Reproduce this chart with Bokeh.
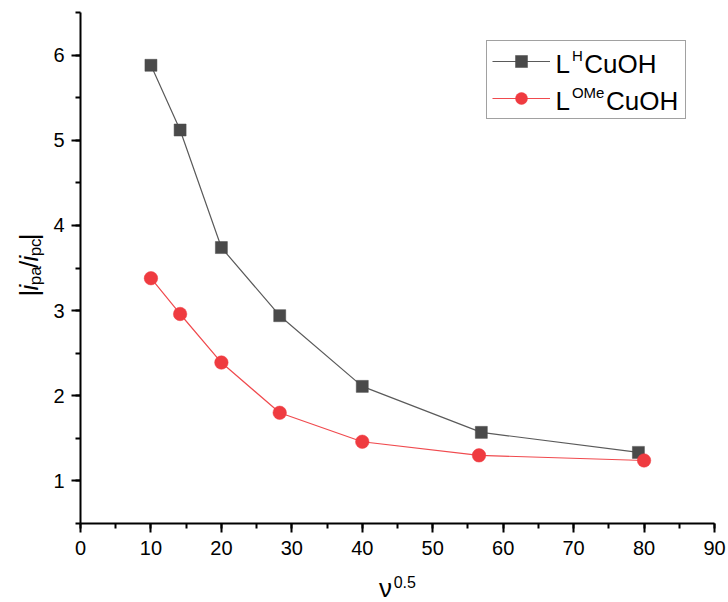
import math
from bokeh.plotting import figure
from bokeh.layouts import row, column
from bokeh.models import (Label, Legend, LegendItem, SingleIntervalTicker, Range1d)
from bokeh.embed import file_html
from bokeh.resources import INLINE

# ---- data ----
x_h = [10, 14.14, 20, 28.28, 40, 56.9, 79.2]
y_h = [5.88, 5.12, 3.74, 2.94, 2.11, 1.57, 1.335]
x_ome = [10, 14.14, 20, 28.28, 40, 56.57, 80]
y_ome = [3.38, 2.96, 2.39, 1.80, 1.46, 1.30, 1.24]

FONT = "Liberation Sans"
X0, X1, Y0, Y1 = 0, 90, 0.5, 6.5
W, H = 728, 602
YLAB_W = 50          # strip holding the rotated y title
XLAB_H = 37          # strip holding the x title
MAIN_W, MAIN_H = W - YLAB_W, H - XLAB_H
FL, FR, FT, FB = 80, 714, 12, 523   # frame edges in page pixels
MID = 0.3465         # distance baseline -> middle of text box, in em

def dx(px):
    return X0 + (px - FL) * (X1 - X0) / (FR - FL)

def dy(py):
    return Y1 - (py - FT) * (Y1 - Y0) / (FB - FT)

# Arial advance widths (per em)
ADV = {"L": .556, "H": .722, "O": .778, "M": .833, "e": .556, "C": .722, "u": .556,
       "|": .260, "i": .222, "p": .556, "a": .556, "/": .278, "c": .500,
       "ν": .520, "0": .556, ".": .278, "5": .556}

def width(s, size):
    return sum(ADV.get(ch, .556) for ch in s) * size

# ---------------- main plot ----------------
p = figure(width=MAIN_W, height=MAIN_H, output_backend="svg", toolbar_location=None,
           x_range=Range1d(X0, X1), y_range=Range1d(Y0, Y1),
           min_border_left=FL - YLAB_W, min_border_right=W - FR,
           min_border_top=FT, min_border_bottom=MAIN_H - FB)
p.outline_line_color = None
p.xgrid.visible = False
p.ygrid.visible = False
p.background_fill_color = "white"
p.border_fill_color = "white"

p.xaxis.ticker = SingleIntervalTicker(interval=10, num_minor_ticks=2)
p.yaxis.ticker = SingleIntervalTicker(interval=1, num_minor_ticks=2)
for ax in (p.xaxis[0], p.yaxis[0]):
    ax.axis_line_width = 2
    ax.axis_line_color = "black"
    ax.major_tick_line_width = 2
    ax.minor_tick_line_width = 2
    ax.major_tick_line_color = "black"
    ax.minor_tick_line_color = "black"
    ax.major_tick_in = 0
    ax.minor_tick_in = 0
    ax.major_tick_out = 9
    ax.minor_tick_out = 5
    ax.major_label_text_font = FONT
    ax.major_label_text_font_size = "20px"
    ax.major_label_text_color = "black"
p.xaxis.major_label_standoff = 8
p.yaxis.major_label_standoff = 7

l1 = p.line(x_h, y_h, line_color="#5a5a5a", line_width=1.2)
m1 = p.scatter(x_h, y_h, marker="square", size=12, fill_color="#4a4a4a",
               line_color="#4a4a4a", line_width=0.5)
l2 = p.line(x_ome, y_ome, line_color="#f04a4e", line_width=1.2)
m2 = p.scatter(x_ome, y_ome, marker="circle", size=13.5, fill_color="#ef3b40",
               line_color="#ef3b40", line_width=0.5)

# legend: samples via Legend, rich labels via Label
LEG_L, LEG_T = 486, 42
PAD, SPC, ROWH = 5, 7, 30
LEG_H = 2 * PAD + 2 * ROWH + SPC
legend = Legend(items=[LegendItem(label=" ", renderers=[l1, m1]),
                       LegendItem(label=" ", renderers=[l2, m2])],
                location=(LEG_L - FL, FB - LEG_T - LEG_H), margin=0,
                padding=PAD, spacing=SPC,
                glyph_width=58, glyph_height=ROWH, label_height=ROWH,
                label_width=122, label_standoff=8,
                label_text_font_size="10px",
                border_line_color="#444444", border_line_width=1.2,
                background_fill_alpha=0)
p.add_layout(legend, "center")

def mid_y(baseline, size):
    """page y of the text-box middle for a given baseline"""
    return baseline - MID * size

MAIN, SUP = 26, 15
rows = [(73, "H"), (110, "OMe")]
for base, sup in rows:
    x = 555
    p.add_layout(Label(x=dx(x), y=dy(mid_y(base, MAIN)), text="L", text_font=FONT,
                       text_font_size=f"{MAIN}px", text_baseline="middle",
                       text_align="left", text_color="black", level="overlay"))
    x += width("L", MAIN) + 2
    p.add_layout(Label(x=dx(x), y=dy(mid_y(base - 13, SUP)), text=sup, text_font=FONT,
                       text_font_size=f"{SUP}px", text_baseline="middle",
                       text_align="left", text_color="black", level="overlay"))
    x += width(sup, SUP) + 1.5
    p.add_layout(Label(x=dx(x), y=dy(mid_y(base, MAIN)), text="CuOH", text_font=FONT,
                       text_font_size=f"{MAIN}px", text_baseline="middle",
                       text_align="left", text_color="black", level="overlay"))

# ---------------- text strips (pixel coordinates, y upward) ----------------
def text_strip(w, h):
    f = figure(width=w, height=h, output_backend="svg", toolbar_location=None,
               title=None, x_range=Range1d(0, w), y_range=Range1d(0, h),
               x_axis_type=None, y_axis_type=None,
               min_border_left=0, min_border_right=0,
               min_border_top=0, min_border_bottom=0)
    f.outline_line_color = None
    f.background_fill_color = "white"
    f.border_fill_color = "white"
    return f

# y title |i_pa / i_pc| (rotated, reads bottom to top)
fy = text_strip(YLAB_W, MAIN_H)
ypieces = [("|", 26, "normal", 0), ("i", 26, "italic", 0), ("pa", 17, "normal", 3),
           ("/", 26, "normal", 0), ("i", 26, "italic", 0), ("pc", 17, "normal", 3),
           ("|", 26, "normal", 0)]
total = sum(width(t, s) for t, s, _, _ in ypieces)
ybase_x = 38                              # page x of the (vertical) baseline
pos = (FT + FB) / 2 + total / 2 + 12      # page y of the start (bottom end)
for t, s, st, shift in ypieces:
    fy.add_layout(Label(x=ybase_x + shift - MID * s, y=MAIN_H - pos, text=t,
                        angle=90, angle_units="deg",
                        text_font=FONT, text_font_size=f"{s}px", text_font_style=st,
                        text_baseline="middle", text_align="left",
                        text_color="black"))
    pos -= width(t, s)

# x title nu^0.5
fx = text_strip(W, XLAB_H)
xw = width("ν", 26) + width("0.5", 16) + 1
xs = (FL + FR) / 2 - xw / 2
fx.add_layout(Label(x=xs, y=H - mid_y(597, 26), text="ν", text_font=FONT,
                    text_font_size="26px", text_baseline="middle",
                    text_align="left", text_color="black"))
fx.add_layout(Label(x=xs + width("ν", 26) + 1, y=H - mid_y(587, 16), text="0.5",
                    text_font=FONT, text_font_size="16px",
                    text_baseline="middle", text_align="left",
                    text_color="black"))

layout = column(row(fy, p, spacing=0), fx, spacing=0)
open("out.html", "w").write(file_html(layout, INLINE))
